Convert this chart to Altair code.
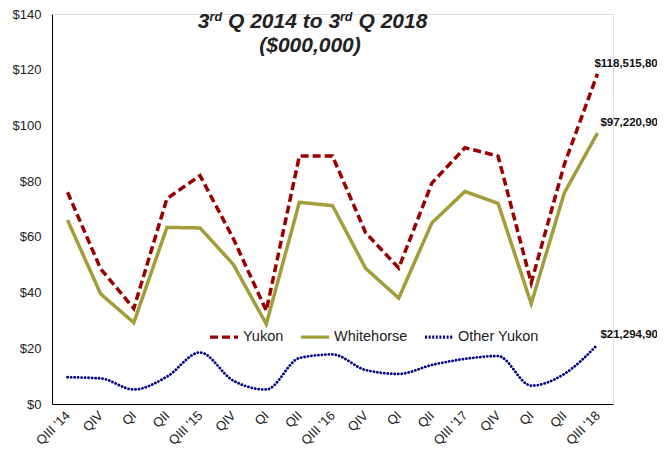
import json
import altair as alt
import pandas as pd

quarters = ["QIII '14", "QIV", "QI", "QII", "QIII '15", "QIV", "QI", "QII",
            "QIII '16", "QIV", "QI", "QII", "QIII '17", "QIV", "QI", "QII", "QIII '18"]
series_names = ["Yukon", "Whitehorse", "Other Yukon"]
yukon = [76.0, 48.5, 34.3, 73.7, 82.0, 59.5, 33.5, 89.0, 89.0, 61.5, 48.8, 79.3, 92.0, 89.0, 43.5, 86.0, 118.5158]
whitehorse = [66.0, 39.5, 29.2, 63.4, 63.2, 50.2, 28.7, 72.4, 71.2, 48.7, 38.0, 65.0, 76.3, 72.0, 36.0, 75.8, 97.2209]
other_yukon = [9.6, 9.2, 5.2, 9.8, 18.5, 8.4, 5.2, 16.5, 17.8, 12.2, 10.8, 14.0, 16.2, 17.2, 6.6, 10.8, 21.2949]
end_labels = ["$118,515,800", "$97,220,900", "$21,294,900"]
colors = ["#990000", "#A09D3A", "#000088"]
legend_dashes = [[8, 4], [1, 0], [2, 1.6]]

rows = []
for name, vals in zip(series_names, [yukon, whitehorse, other_yukon]):
    for i, v in enumerate(vals):
        rows.append({"idx": i, "series": name, "value": v})
df = pd.DataFrame(rows)

ends = pd.DataFrame({
    "idx": [len(quarters) - 1] * 3,
    "series": series_names,
    "value": [yukon[-1], whitehorse[-1], other_yukon[-1]],
    "label": end_labels,
})

label_expr = json.dumps(quarters) + "[datum.value]"
idx_domain = list(range(len(quarters)))

x_enc = alt.X("idx:O",
              scale=alt.Scale(type="point", domain=idx_domain, padding=0.47),
              axis=alt.Axis(labelExpr=label_expr,
                            labelAngle=-45, labelAlign="right", labelBaseline="middle",
                            labelFontSize=13, labelColor="#222222", labelFont="Liberation Sans",
                            labelPadding=9, ticks=False, tickSize=0, grid=False,
                            domainColor="#000000", domainWidth=1, title=None,
                            labelOverlap=False, labelBound=False))
y_enc = alt.Y("value:Q",
              scale=alt.Scale(domain=[0, 140], nice=False),
              axis=alt.Axis(values=[0, 20, 40, 60, 80, 100, 120, 140], format="$,.0f",
                            labelFontSize=13, labelColor="#222222", labelFont="Liberation Sans",
                            labelPadding=11, ticks=False, tickSize=0, grid=False,
                            domainColor="#000000", domainWidth=1, title=None))

color_enc = alt.Color("series:N",
                      scale=alt.Scale(domain=series_names, range=colors),
                      legend=alt.Legend(orient="none", legendX=156, legendY=307,
                                        direction="horizontal", title=None,
                                        symbolType="stroke", symbolSize=784,
                                        symbolStrokeWidth=3.3, labelFontSize=14.5,
                                        labelFont="Liberation Sans", labelColor="#222222",
                                        labelOffset=3, columnPadding=10, padding=0))
dash_enc = alt.StrokeDash("series:N",
                          scale=alt.Scale(domain=series_names, range=legend_dashes),
                          legend=None)

straight = alt.Chart(df).encode(x=x_enc, y=y_enc, color=color_enc, strokeDash=dash_enc).transform_filter(
    alt.FieldOneOfPredicate(field="series", oneOf=["Yukon", "Whitehorse"])
).mark_line(strokeWidth=3.5, strokeCap="butt", strokeJoin="miter")

curvy = alt.Chart(df).encode(x=x_enc, y=y_enc, color=color_enc).transform_filter(
    alt.FieldEqualPredicate(field="series", equal="Other Yukon")
).mark_line(strokeWidth=2.8, interpolate="monotone", strokeCap="round", strokeDash=[0.1, 3.4])

text_base = alt.Chart(ends).encode(x=alt.X("idx:O"), y=alt.Y("value:Q"), text="label:N")
lab_y = text_base.transform_filter(alt.datum.series == "Yukon").mark_text(
    align="left", baseline="alphabetic", dx=-3, dy=-7, fontSize=11.5, fontWeight="bold",
    font="Liberation Sans", color="#111111")
lab_w = text_base.transform_filter(alt.datum.series == "Whitehorse").mark_text(
    align="left", baseline="alphabetic", dx=3, dy=-7, fontSize=11.5, fontWeight="bold",
    font="Liberation Sans", color="#111111")
lab_o = text_base.transform_filter(alt.datum.series == "Other Yukon").mark_text(
    align="left", baseline="alphabetic", dx=3, dy=-7, fontSize=11.5, fontWeight="bold",
    font="Liberation Sans", color="#111111")

# Title pieces (with superscripts)
title_parts = ["3", "rd", "Q 2014 to 3", "rd", "Q 2018"]
title_line2 = "($000,000)"
title_x = [145.7, 157.6, 176.0, 288.0, 306.5]
title_sizes = [21, 12.5, 21, 12.5, 21]
title_y = [14.2, 7.0, 14.2, 7.0, 14.2]
title_layers = []
for t, xx, yy, fs in zip(title_parts, title_x, title_y, title_sizes):
    title_layers.append(
        alt.Chart(pd.DataFrame({"t": [t]})).mark_text(
            align="left", baseline="alphabetic", fontSize=fs, fontWeight="bold",
            fontStyle="italic", font="Liberation Sans", color="#222222"
        ).encode(text="t:N", x=alt.value(xx), y=alt.value(yy))
    )
title_layers.append(
    alt.Chart(pd.DataFrame({"t": [title_line2]})).mark_text(
        align="center", baseline="alphabetic", fontSize=21, fontWeight="bold",
        fontStyle="italic", font="Liberation Sans", color="#222222"
    ).encode(text="t:N", x=alt.value(258), y=alt.value(38))
)

chart = alt.layer(straight, curvy, lab_y, lab_w, lab_o, *title_layers).properties(
    width=561, height=390,
    autosize=alt.AutoSizeParams(type="none"),
    padding={"left": 44, "top": 6, "right": 44, "bottom": 43},
).configure_view(stroke=None).configure(background="#ffffff")

chart.save("out.html", embed_options={"renderer": "svg", "actions": False})
